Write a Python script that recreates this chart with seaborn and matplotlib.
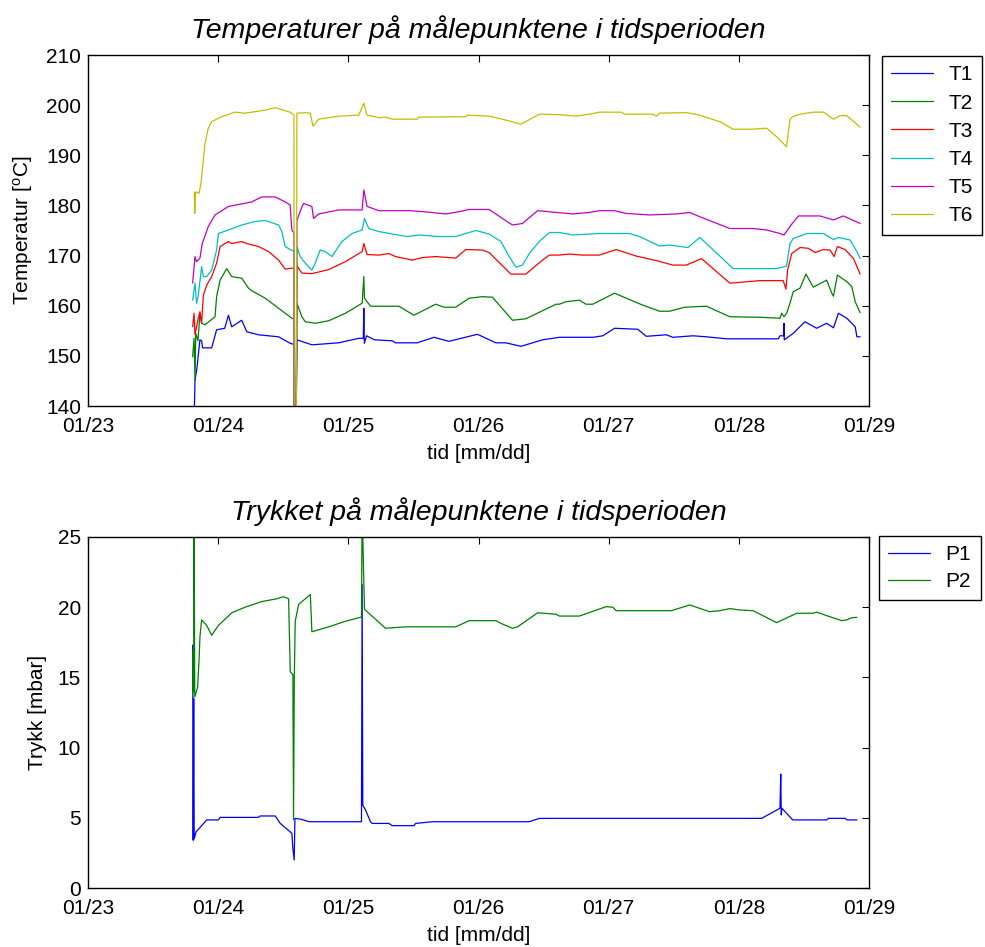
import pandas as pd
import matplotlib
matplotlib.use("Agg")
import matplotlib.pyplot as plt
import matplotlib.dates as mdates
import seaborn as sns

# tid i dager etter 01/23 00:00
t1_days = [0.817, 0.822, 0.835, 0.86, 0.873, 0.88, 0.95, 0.988, 1.05, 1.079, 1.104, 1.181, 1.22, 1.31,
           1.464, 1.554, 1.58, 1.584, 1.6, 1.605, 1.72, 1.926, 2.08, 2.115, 2.119, 2.123, 2.14, 2.2,
           2.337, 2.363, 2.529, 2.658, 2.773, 2.992, 3.133, 3.21, 3.326, 3.492, 3.621, 3.878, 3.955,
           4.045, 4.224, 4.289, 4.443, 4.494, 4.648, 4.751, 4.905, 5.303, 5.316, 5.345, 5.347, 5.349,
           5.418, 5.508, 5.598, 5.675, 5.727, 5.765, 5.83, 5.894, 5.907, 5.932]
t1_vals = [139, 145.2, 147.2, 153.2, 153.0, 151.6, 151.6, 155.2, 155.5, 158.1, 155.8, 157.1, 154.8, 154.2,
           153.8, 152.5, 152.3, 139, 139, 153.2, 152.2, 152.6, 153.5, 153.5, 159.5, 152.5, 154.0, 153.2,
           153.0, 152.6, 152.6, 153.7, 152.9, 154.3, 152.6, 152.6, 151.9, 153.2, 153.7, 153.7, 154.0,
           155.5, 155.3, 153.9, 154.2, 153.7, 154.0, 153.8, 153.4, 153.4, 154.0, 154.0, 156.5, 153.2,
           154.5, 156.8, 155.5, 156.5, 155.6, 158.5, 157.5, 155.8, 153.8, 153.8]

t2_days = [0.804, 0.815, 0.822, 0.828, 0.845, 0.86, 0.873, 0.899, 0.937, 0.976, 0.988, 1.015, 1.066, 1.104,
           1.181, 1.233, 1.258, 1.361, 1.464, 1.566, 1.582, 1.584, 1.6, 1.605, 1.643, 1.669, 1.747, 1.849,
           1.978, 2.106, 2.119, 2.124, 2.17, 2.388, 2.504, 2.671, 2.735, 2.825, 2.928, 3.03, 3.107, 3.261,
           3.364, 3.596, 3.621, 3.672, 3.775, 3.826, 3.878, 4.045, 4.135, 4.263, 4.391, 4.468, 4.584, 4.751,
           4.931, 5.162, 5.316, 5.329, 5.347, 5.367, 5.393, 5.418, 5.47, 5.516, 5.541, 5.572, 5.675, 5.714,
           5.727, 5.757, 5.83, 5.868, 5.894, 5.932]
t2_vals = [149.8, 153.5, 145, 154.5, 153, 158.5, 156.5, 156.2, 157.0, 157.8, 161.8, 165.1, 167.4, 165.8,
           165.5, 163.5, 163.0, 161.5, 159.5, 157.5, 157.3, 139, 139, 160.5, 157.8, 156.8, 156.5, 157.0,
           158.5, 160.5, 165.8, 161.5, 159.9, 159.9, 158.1, 160.3, 159.7, 159.7, 161.5, 161.8, 161.7, 157.1,
           157.4, 160.3, 160.3, 160.8, 161.1, 160.3, 160.3, 162.5, 161.5, 160.1, 158.9, 158.9, 159.7, 159.9,
           157.8, 157.7, 157.5, 158.5, 157.8, 158.5, 160.5, 162.8, 163.5, 166.3, 165.1, 163.7, 165.1, 162.5,
           161.9, 166.1, 164.8, 163.8, 160.8, 158.6]

t3_days = [0.804, 0.815, 0.822, 0.847, 0.86, 0.873, 0.886, 0.912, 0.95, 0.988, 1.015, 1.079, 1.104, 1.181,
           1.22, 1.31, 1.387, 1.464, 1.515, 1.566, 1.582, 1.584, 1.6, 1.605, 1.643, 1.72, 1.849, 1.978,
           2.106, 2.119, 2.144, 2.234, 2.311, 2.363, 2.491, 2.568, 2.671, 2.825, 2.902, 3.03, 3.082, 3.249,
           3.364, 3.492, 3.544, 3.621, 3.698, 3.8, 3.929, 4.058, 4.212, 4.366, 4.494, 4.597, 4.713, 4.931,
           5.162, 5.341, 5.362, 5.375, 5.406, 5.47, 5.534, 5.586, 5.65, 5.701, 5.732, 5.757, 5.817, 5.881,
           5.932]
t3_vals = [155.8, 158.5, 154.2, 157.5, 158.8, 156.5, 162.1, 164.1, 165.8, 168.5, 171.8, 172.8, 172.4, 172.8,
           172.4, 171.8, 170.8, 169.1, 167.3, 167.5, 167.4, 139, 139, 168.0, 166.5, 166.4, 167.2, 168.8,
           170.8, 172.4, 170.2, 170.1, 170.4, 169.8, 169.1, 169.6, 169.8, 169.5, 171.2, 171.1, 170.6, 166.3,
           166.3, 169.1, 170.1, 170.1, 170.3, 170.1, 170.1, 171.2, 169.9, 169.0, 168.1, 168.1, 169.4, 164.5,
           165.0, 165.0, 163.3, 167.1, 170.4, 171.6, 171.45, 170.6, 171.2, 171.1, 169.8, 171.8, 171.2, 169.4,
           166.3]

t4_days = [0.804, 0.822, 0.834, 0.847, 0.873, 0.886, 0.912, 0.95, 0.988, 1.002, 1.079, 1.181, 1.284, 1.361,
           1.464, 1.489, 1.515, 1.566, 1.582, 1.584, 1.6, 1.605, 1.63, 1.669, 1.72, 1.746, 1.784, 1.823,
           1.874, 1.951, 2.028, 2.106, 2.124, 2.157, 2.234, 2.337, 2.452, 2.542, 2.696, 2.825, 2.979, 3.082,
           3.172, 3.236, 3.287, 3.338, 3.39, 3.467, 3.544, 3.621, 3.724, 3.929, 4.16, 4.237, 4.391, 4.468,
           4.609, 4.7, 4.751, 4.854, 4.956, 5.29, 5.367, 5.393, 5.418, 5.522, 5.65, 5.727, 5.765, 5.855,
           5.907, 5.932]
t4_vals = [161.1, 164.5, 160.5, 162.0, 167.8, 165.8, 165.8, 167.1, 171.1, 174.4, 175.1, 176.1, 176.8, 177.0,
           176.1, 174.8, 171.8, 171.0, 171.0, 139, 139, 171.8, 169.8, 168.5, 167.1, 168.5, 171.1, 170.8,
           169.8, 172.8, 174.4, 175.1, 177.4, 175.4, 174.8, 174.3, 173.8, 174.1, 173.8, 173.8, 175.0, 174.3,
           172.8, 169.8, 167.7, 168.1, 170.4, 172.8, 174.6, 174.6, 174.1, 174.4, 174.4, 173.8, 171.9, 172.1,
           171.6, 173.6, 172.4, 169.9, 167.4, 167.4, 167.9, 172.4, 173.4, 174.4, 174.4, 173.2, 173.6, 173.1,
           170.8, 169.4]

t5_days = [0.804, 0.822, 0.834, 0.86, 0.878, 0.924, 0.976, 1.079, 1.181, 1.258, 1.335, 1.438, 1.515, 1.553,
           1.566, 1.582, 1.584, 1.6, 1.605, 1.64, 1.656, 1.72, 1.733, 1.772, 1.926, 2.106, 2.119, 2.144,
           2.234, 2.478, 2.581, 2.748, 2.851, 2.928, 3.082, 3.184, 3.261, 3.338, 3.454, 3.621, 3.724, 3.852,
           3.929, 4.045, 4.135, 4.314, 4.52, 4.622, 4.7, 4.931, 5.11, 5.213, 5.316, 5.347, 5.393, 5.457,
           5.624, 5.727, 5.803, 5.932]
t5_vals = [164.5, 169.8, 168.8, 169.5, 172.4, 175.8, 178.1, 179.8, 180.3, 180.7, 181.7, 181.7, 180.7, 180.1,
           175.1, 174.5, 139, 139, 177.0, 179.5, 180.4, 179.8, 177.4, 178.3, 179.1, 179.1, 183.1, 179.8,
           178.95, 178.95, 178.75, 178.3, 178.75, 179.2, 179.2, 177.4, 176.1, 176.4, 178.95, 178.55, 178.3,
           178.6, 178.95, 178.95, 178.4, 178.1, 178.3, 178.6, 177.75, 175.4, 175.4, 175.1, 174.4, 174.1,
           175.8, 177.9, 177.9, 177.1, 177.9, 176.4]

t6_days = [0.817, 0.82, 0.825, 0.834, 0.853, 0.868, 0.886, 0.899, 0.924, 0.95, 1.027, 1.13, 1.207, 1.361,
           1.438, 1.541, 1.566, 1.582, 1.584, 1.6, 1.605, 1.669, 1.708, 1.728, 1.772, 1.926, 2.08, 2.119,
           2.144, 2.234, 2.286, 2.337, 2.529, 2.542, 2.902, 2.915, 3.082, 3.184, 3.326, 3.467, 3.621, 3.75,
           3.852, 3.929, 4.096, 4.122, 4.34, 4.366, 4.391, 4.597, 4.7, 4.854, 4.956, 5.098, 5.213, 5.29,
           5.367, 5.393, 5.414, 5.47, 5.572, 5.65, 5.727, 5.778, 5.83, 5.932]
t6_vals = [182.7, 178.4, 182.5, 182.7, 182.4, 184.4, 189.1, 192.4, 195.4, 196.7, 197.7, 198.6, 198.4, 199.0,
           199.5, 198.7, 198.4, 198.0, 139, 139, 198.4, 198.5, 198.4, 195.8, 197.2, 197.8, 198.0, 200.4,
           198.0, 197.5, 197.6, 197.2, 197.2, 197.6, 197.7, 198.0, 197.8, 197.2, 196.2, 198.2, 198.1, 197.8,
           198.2, 198.6, 198.6, 198.2, 198.2, 197.8, 198.4, 198.5, 198.0, 196.7, 195.2, 195.2, 195.4, 193.7,
           191.7, 197.2, 197.7, 198.2, 198.6, 198.6, 197.2, 197.9, 197.9, 195.6]

p1_days = [0.804, 0.808, 0.812, 0.816, 0.83, 0.86, 0.912, 1.002, 1.015, 1.309, 1.322, 1.438, 1.477, 1.515,
           1.566, 1.574, 1.584, 1.59, 1.635, 1.7, 2.101, 2.106, 2.111, 2.13, 2.17, 2.183, 2.311, 2.337,
           2.504, 2.517, 2.645, 3.39, 3.467, 4.622, 5.175, 5.316, 5.322, 5.326, 5.331, 5.414, 5.675, 5.688,
           5.817, 5.83, 5.907]
p1_vals = [17.3, 3.4, 13.5, 3.5, 4.0, 4.3, 4.85, 4.85, 5.03, 5.03, 5.13, 5.13, 4.6, 4.3,
           3.9, 2.8, 2.0, 4.96, 4.9, 4.72, 4.72, 21.6, 5.9, 5.6, 4.72, 4.6, 4.6, 4.44,
           4.44, 4.6, 4.72, 4.72, 4.96, 4.96, 4.96, 5.68, 8.12, 5.2, 5.68, 4.85, 4.85, 4.96,
           4.96, 4.85, 4.85]

p2_days = [0.804, 0.808, 0.812, 0.815, 0.82, 0.842, 0.853, 0.86, 0.873, 0.912, 0.95, 1.002, 1.104, 1.207,
           1.335, 1.451, 1.502, 1.541, 1.554, 1.574, 1.579, 1.585, 1.592, 1.618, 1.708, 1.72, 1.849, 1.978,
           2.101, 2.106, 2.124, 2.286, 2.44, 2.825, 2.928, 3.133, 3.184, 3.261, 3.3, 3.454, 3.596, 3.621,
           3.775, 3.981, 4.032, 4.058, 4.482, 4.622, 4.776, 4.853, 4.931, 5.008, 5.11, 5.29, 5.445, 5.572,
           5.598, 5.675, 5.791, 5.83, 5.868, 5.907]
p2_vals = [13.6, 17.0, 14.0, 27, 13.6, 14.3, 16.2, 17.9, 19.1, 18.7, 18.0, 18.7, 19.6, 20.0,
           20.4, 20.6, 20.75, 20.6, 15.4, 15.2, 4.85, 15.05, 19.0, 20.2, 20.9, 18.25, 18.6, 19.0,
           19.3, 27, 19.85, 18.5, 18.6, 18.6, 19.04, 19.04, 18.8, 18.5, 18.6, 19.6, 19.5, 19.37,
           19.37, 20.04, 20.0, 19.75, 19.75, 20.16, 19.68, 19.75, 19.9, 19.8, 19.75, 18.9, 19.57, 19.57,
           19.65, 19.4, 19.04, 19.1, 19.25, 19.28]

temp_names = ["T1", "T2", "T3", "T4", "T5", "T6"]
temp_series = [(t1_days, t1_vals), (t2_days, t2_vals), (t3_days, t3_vals),
               (t4_days, t4_vals), (t5_days, t5_vals), (t6_days, t6_vals)]
press_names = ["P1", "P2"]
press_series = [(p1_days, p1_vals), (p2_days, p2_vals)]

colors = {"T1": "#0000ff", "T2": "#008000", "T3": "#ff0000", "T4": "#00bfbf", "T5": "#bf00bf",
          "T6": "#bfbf00", "P1": "#0000ff", "P2": "#008000"}

start = pd.Timestamp("2004-01-23")


def make_frame(names, series):
    parts = []
    for name, (days, vals) in zip(names, series):
        parts.append(pd.DataFrame({"tid": start + pd.to_timedelta(days, unit="D"),
                                   "verdi": vals, "sensor": name}))
    return pd.concat(parts, ignore_index=True)


df_temp = make_frame(temp_names, temp_series)
df_press = make_frame(press_names, press_series)

sns.set_theme(style="white")
plt.rcParams["font.family"] = ["Liberation Sans", "DejaVu Sans"]
plt.rcParams["mathtext.fontset"] = "custom"
plt.rcParams["mathtext.rm"] = "Liberation Sans"
plt.rcParams["mathtext.it"] = "Liberation Sans:italic"
plt.rcParams["text.color"] = "black"
plt.rcParams["axes.labelcolor"] = "black"

FS = 15

fig = plt.figure(figsize=(9.85, 9.47), dpi=100)
ax1 = fig.add_axes([88 / 985, 1 - 406 / 947, 781 / 985, 351 / 947])
ax2 = fig.add_axes([88 / 985, 1 - 888 / 947, 781 / 985, 351 / 947])


def style_axes(ax, df, names, ylim, yticks, ylabel, title, legend_xy, spacing):
    sns.lineplot(data=df, x="tid", y="verdi", hue="sensor", palette=colors, hue_order=names,
                 estimator=None, sort=False, linewidth=0.9, ax=ax, legend=False)
    ax.set_xlim(start, start + pd.Timedelta(days=6))
    ax.set_ylim(*ylim)
    ax.set_yticks(yticks)
    ax.xaxis.set_major_locator(mdates.DayLocator())
    ax.xaxis.set_major_formatter(mdates.DateFormatter("%m/%d"))
    ax.tick_params(direction="in", top=True, right=True, length=5, width=0.8, colors="black",
                   labelsize=FS)
    ax.tick_params(axis="x", pad=8)
    ax.tick_params(axis="y", pad=5)
    for sp in ax.spines.values():
        sp.set_color("black")
        sp.set_linewidth(1.0)
    ax.set_xlabel("tid [mm/dd]", fontsize=FS, labelpad=6)
    ax.set_ylabel(ylabel, fontsize=FS, labelpad=8)
    ax.set_title(title, fontsize=20.5, style="italic", pad=12)
    handles = ax.get_lines()[:len(names)]
    leg = ax.legend(handles, names, loc="upper left", bbox_to_anchor=legend_xy,
                    bbox_transform=fig.transFigure, borderaxespad=0, fontsize=FS,
                    frameon=True, fancybox=False, framealpha=1, edgecolor="black",
                    handlelength=2.0, handletextpad=0.75, labelspacing=spacing, borderpad=0.45)
    leg.get_frame().set_linewidth(1.0)


style_axes(ax1, df_temp, temp_names, (140, 210), range(140, 211, 10), r"Temperatur [$^{\mathrm{o}}$C]",
           "Temperaturer på målepunktene i tidsperioden", (882 / 985, 1 - 56 / 947), 0.44)
style_axes(ax2, df_press, press_names, (0, 25), range(0, 26, 5), "Trykk [mbar]",
           "Trykket på målepunktene i tidsperioden", (879 / 985, 1 - 536 / 947), 0.37)

fig.savefig("out.png", dpi=100, facecolor="white")
